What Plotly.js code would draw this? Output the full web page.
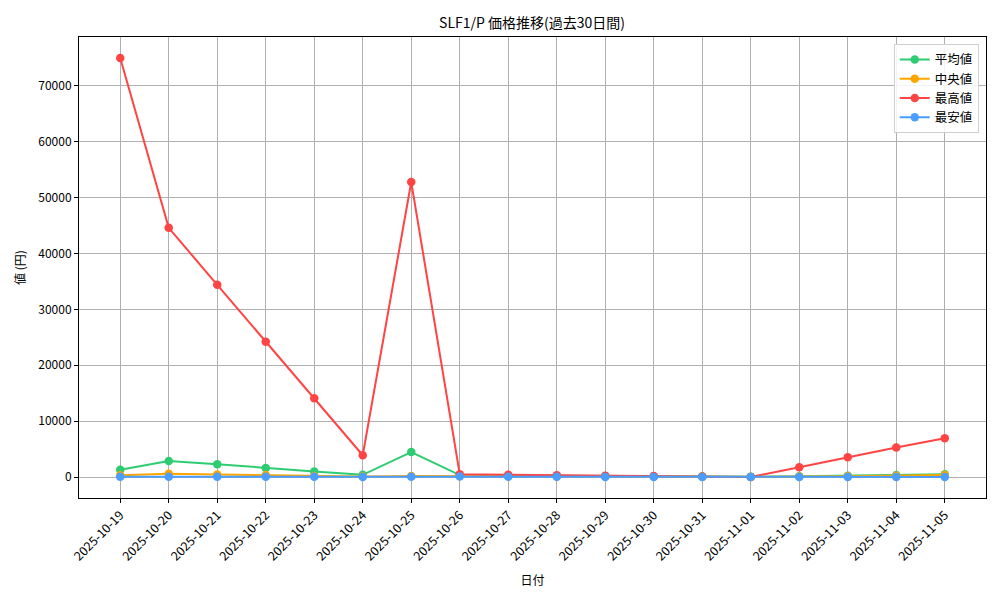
<!DOCTYPE html>
<html><head><meta charset="utf-8">
<script src="https://cdn.plot.ly/plotly-3.0.1.min.js"></script>
<style>body{margin:0;background:#fff}#chart{width:1000px;height:600px}</style>
</head><body><div id="chart"></div>
<script>
const dates = ["2025-10-19","2025-10-20","2025-10-21","2025-10-22","2025-10-23","2025-10-24","2025-10-25","2025-10-26","2025-10-27","2025-10-28","2025-10-29","2025-10-30","2025-10-31","2025-11-01","2025-11-02","2025-11-03","2025-11-04","2025-11-05"];
const avgVals = [1300, 2860, 2300, 1600, 1000, 400, 4480, 350, 250, 220, 180, 150, 100, 50, 150, 250, 350, 500];
const medVals = [300, 600, 450, 350, 200, 100, 200, 200, 150, 120, 100, 80, 60, 30, 80, 150, 250, 350];
const maxVals = [75000, 44600, 34400, 24200, 14100, 3900, 52800, 500, 400, 320, 250, 180, 100, 30, 1750, 3550, 5270, 6950];
const minVals = [50, 50, 40, 40, 40, 30, 40, 80, 50, 40, 30, 30, 20, 10, 20, 30, 30, 30];
const seriesNames = ["平均値", "中央値", "最高値", "最安値"];
const seriesColors = ["#2ecc71", "#ffa500", "#ff4444", "#4a9eff"];
const seriesVals = [avgVals, medVals, maxVals, minVals];

const FONT = "'Noto Sans CJK JP', 'DejaVu Sans', sans-serif";
const traces = seriesVals.map((v, i) => ({
  x: dates, y: v, name: seriesNames[i], type: 'scatter', mode: 'lines+markers',
  line: {color: seriesColors[i], width: 2},
  marker: {color: seriesColors[i], size: 8.5}
}));

const layout = {
  width: 1000, height: 600,
  margin: {l: 79, r: 14, t: 37, b: 102},
  paper_bgcolor: '#fff', plot_bgcolor: '#fff',
  font: {family: FONT, size: 12, color: '#000'},
  title: {text: 'SLF1/P 価格推移(過去30日間)', x: 0.532, xanchor: 'center', y: 0.962, yanchor: 'middle', font: {size: 14, family: FONT}},
  xaxis: {
    type: 'category', range: [-0.85, 17.85], tickangle: -45,
    showgrid: true, gridcolor: '#b0b0b0', gridwidth: 1,
    showline: true, linecolor: '#000', linewidth: 1, mirror: true,
    ticks: 'outside', ticklen: 4, tickcolor: '#000',
    zeroline: false,
    title: {text: '日付', font: {size: 12}, standoff: 13},
    tickfont: {size: 12.5}
  },
  yaxis: {
    range: [-3750, 78750], dtick: 10000, tickformat: 'd',
    showgrid: true, gridcolor: '#b0b0b0', gridwidth: 1,
    showline: true, linecolor: '#000', linewidth: 1, mirror: true,
    ticks: 'outside', ticklen: 4, tickcolor: '#000',
    zeroline: false,
    title: {text: '値 (円)', font: {size: 12}, standoff: 10},
    tickfont: {size: 12}
  },
  legend: {
    x: 0.992, xanchor: 'right', y: 0.985, yanchor: 'top',
    bgcolor: 'rgba(255,255,255,0.85)', bordercolor: '#d0d0d0', borderwidth: 1,
    font: {size: 12.5}
  },
  showlegend: true
};
Plotly.newPlot('chart', traces, layout, {displayModeBar: false, staticPlot: true});
</script></body></html>
